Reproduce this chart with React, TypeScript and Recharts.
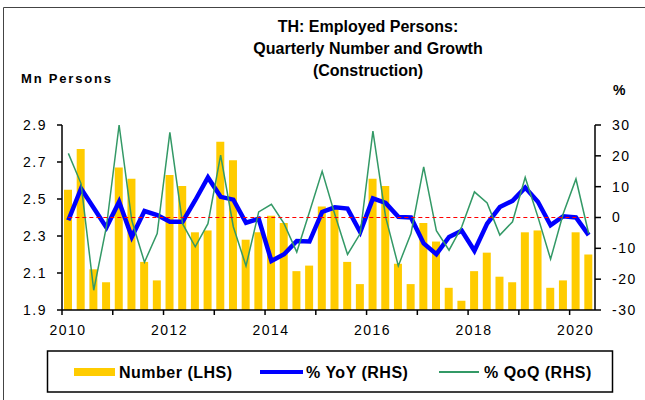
import { ComposedChart, Bar, Line, XAxis, YAxis, ReferenceLine } from 'recharts';

// 2010Q1 .. 2020Q2
const quarters = [
  '2010Q1', '2010Q2', '2010Q3', '2010Q4',
  '2011Q1', '2011Q2', '2011Q3', '2011Q4',
  '2012Q1', '2012Q2', '2012Q3', '2012Q4',
  '2013Q1', '2013Q2', '2013Q3', '2013Q4',
  '2014Q1', '2014Q2', '2014Q3', '2014Q4',
  '2015Q1', '2015Q2', '2015Q3', '2015Q4',
  '2016Q1', '2016Q2', '2016Q3', '2016Q4',
  '2017Q1', '2017Q2', '2017Q3', '2017Q4',
  '2018Q1', '2018Q2', '2018Q3', '2018Q4',
  '2019Q1', '2019Q2', '2019Q3', '2019Q4',
  '2020Q1', '2020Q2',
];

// Mn persons (LHS)
const number = [
  2.55, 2.77, 2.12, 2.05, 2.67, 2.61, 2.16, 2.06, 2.63, 2.57, 2.32, 2.33,
  2.81, 2.71, 2.28, 2.32, 2.41, 2.37, 2.11, 2.14, 2.46, 2.45, 2.16, 2.04,
  2.61, 2.57, 2.15, 2.04, 2.37, 2.27, 2.02, 1.95, 2.11, 2.21, 2.08, 2.05,
  2.32, 2.33, 2.02, 2.06, 2.32, 2.2,
];

// % YoY (RHS)
const yoy = [
  -0.9, 9.4, 3.1, -3.2, 5.1, -6.3, 2.1, 0.8, -1.4, -1.4, 5.6, 13.0,
  6.7, 5.8, -1.7, -0.4, -14.1, -11.9, -7.6, -7.8, 1.8, 3.3, 2.9, -4.7,
  6.2, 4.7, 0.2, 0, -8.4, -11.9, -6.3, -4.3, -10.8, -2.0, 3.4, 5.4,
  9.7, 5.1, -2.5, 0.4, 0, -5.7,
];

// % QoQ (RHS)
const qoq = [
  20.8, 11, -23.6, -3, 30, -1, -14.5, -5.2, 27.6, -2, -9.5, -2,
  20.2, -3, -15.7, 1.8, 4.3, -2, -11.2, 1.8, 15, 1, -12, -5.2,
  28, 0.2, -15.7, -5.2, 16.4, -4.3, -10.6, -3, 8.3, 4.7, -5.7, -1.4,
  13, 0.2, -13.5, 1.3, 12.5, -5.2,
];

const yearLabels = ['2010', '', '2012', '', '2014', '', '2016', '', '2018', '', '2020'];
const leftTicks = [1.9, 2.1, 2.3, 2.5, 2.7, 2.9];
const rightTicks = [-30, -20, -10, 0, 10, 20, 30];

const data = quarters.map((q, i) => ({ i, q, number: number[i], yoy: yoy[i], qoq: qoq[i] }));
// year boundaries sit between Q4 and Q1
const yearTicks = yearLabels.map((_, k) => k * 4 - 0.5);

const FONT = '"Liberation Sans", Arial, sans-serif';
const tickStyle = { fontSize: 14, fill: '#000', fontFamily: FONT, letterSpacing: 1.5 };

function YearTick({ x, y, payload }: any) {
  const k = Math.round((payload.value + 0.5) / 4);
  return (
    <text x={x + 6} y={y} dy="0.71em" textAnchor="middle" {...tickStyle}>
      {yearLabels[k]}
    </text>
  );
}

export default function App() {
  return (
    <div style={{ position: 'absolute', left: 0, top: 0, width: 645, height: 400, background: '#fff', overflow: 'hidden', fontFamily: FONT }}>
      <ComposedChart
        width={645}
        height={400}
        data={data}
        margin={{ top: 125, right: 0, bottom: 60, left: 0 }}
      >
        <XAxis
          dataKey="i"
          type="number"
          domain={[-0.5, 41.5]}
          ticks={yearTicks}
          interval={0}
          tick={<YearTick />}
          tickSize={5}
          tickMargin={10}
          height={30}
          axisLine={{ stroke: '#000', strokeWidth: 1.5 }}
          tickLine={{ stroke: '#000', strokeWidth: 1.5 }}
        />
        <YAxis
          yAxisId="left"
          domain={[1.9, 2.9]}
          ticks={leftTicks}
          tickFormatter={(v) => v.toFixed(1)}
          width={62}
          tickSize={5}
          tickMargin={10}
          tick={tickStyle}
          axisLine={{ stroke: '#000', strokeWidth: 1.5 }}
          tickLine={{ stroke: '#000', strokeWidth: 1.5 }}
        />
        <YAxis
          yAxisId="right"
          orientation="right"
          domain={[-30, 30]}
          ticks={rightTicks}
          width={50}
          tickSize={6}
          tickMargin={11}
          tick={tickStyle}
          axisLine={{ stroke: '#000', strokeWidth: 1.5 }}
          tickLine={{ stroke: '#000', strokeWidth: 1.5 }}
        />
        <Bar yAxisId="left" dataKey="number" fill="#FFCC00" barSize={8} isAnimationActive={false} />
        <Line
          yAxisId="right"
          dataKey="yoy"
          type="linear"
          stroke="#0000FF"
          strokeWidth={4.5}
          dot={false}
          isAnimationActive={false}
        />
        <Line
          yAxisId="right"
          dataKey="qoq"
          type="linear"
          stroke="#339966"
          strokeWidth={1.5}
          dot={false}
          isAnimationActive={false}
        />
        <ReferenceLine
          yAxisId="right"
          segment={[{ x: 0, y: 0 }, { x: 41, y: 0 }]}
          stroke="#FF0000"
          strokeWidth={1.2}
          strokeDasharray="4 3"
        />
      </ComposedChart>

      <svg width={645} height={400} style={{ position: 'absolute', left: 0, top: 0, pointerEvents: 'none' }}>
        <path d="M3.5,400 V7.5 H645" fill="none" stroke="#444" strokeWidth={1} />
        <g fontFamily={FONT} fontWeight="bold" fill="#000">
          <text x={368} y={32} textAnchor="middle" fontSize={16}>TH: Employed Persons:</text>
          <text x={368} y={54} textAnchor="middle" fontSize={16}>Quarterly Number and Growth</text>
          <text x={368} y={76} textAnchor="middle" fontSize={16}>(Construction)</text>
          <text x={21} y={83} fontSize={13} letterSpacing={1.8}>Mn Persons</text>
          <text x={613} y={95} fontSize={14}>%</text>
        </g>
        <rect x={47.5} y={351} width={565} height={41} fill="#fff" stroke="#000" strokeWidth={1.5} />
        <rect x={74} y={368} width={41} height={8} fill="#FFCC00" />
        <line x1={260} y1={372} x2={303} y2={372} stroke="#0000FF" strokeWidth={4} />
        <line x1={439} y1={372} x2={479} y2={372} stroke="#339966" strokeWidth={2} />
        <g fontFamily={FONT} fontWeight="bold" fontSize={16} fill="#000" letterSpacing={0.5}>
          <text x={119} y={378}>Number (LHS)</text>
          <text x={306} y={378}>% YoY (RHS)</text>
          <text x={484} y={378}>% QoQ (RHS)</text>
        </g>
      </svg>
    </div>
  );
}
